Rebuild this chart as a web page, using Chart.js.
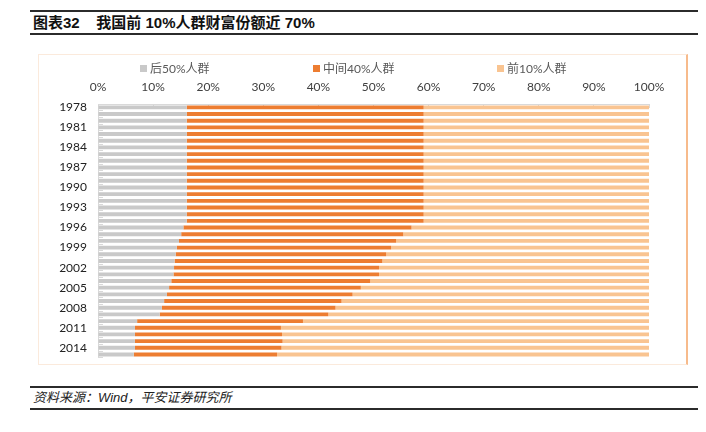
<!DOCTYPE html>
<html>
<head>
<meta charset="utf-8">
<script src="https://cdn.jsdelivr.net/npm/chart.js@4.4.0/dist/chart.umd.min.js"></script>
<style>
  body { margin: 0; background: #fff; width: 706px; height: 432px; position: relative; overflow: hidden;
         font-family: 'Liberation Sans', 'Noto Sans CJK SC', sans-serif; }
  .rule { position: absolute; left: 30px; width: 668px; background: #2b2b2b; }
  #title { position: absolute; left: 33px; top: 12px; height: 21px; line-height: 21px; font-size: 15px; font-weight: bold; color: #111; white-space: pre; }
  #source { position: absolute; left: 33px; top: 388px; height: 19px; line-height: 19px; font-size: 13px; font-style: italic; color: #222; }
  #frame { position: absolute; left: 38px; top: 54px; width: 650px; height: 311px; box-sizing: border-box;
           border: 1px solid #fbeadc; border-right: 2px solid #f7bb8c; }
  #chart { position: absolute; left: 38px; top: 54px; }
  #legend { position: absolute; top: 61px; left: 0; width: 706px; height: 16px;
            font-family: Lato, 'Noto Sans CJK SC', sans-serif; font-size: 12px; color: #595959; }
  #legend span.item { position: absolute; top: 0; line-height: 16px; white-space: nowrap; }
  #legend i { display: inline-block; width: 7px; height: 7px; margin-right: 3px; vertical-align: 1px; }
</style>
</head>
<body>
<div class="rule" style="top:10px;height:2px"></div>
<div id="title">图表32    我国前 10%人群财富份额近 70%</div>
<div class="rule" style="top:33px;height:2px"></div>

<div id="frame"></div>
<canvas id="chart" width="650" height="327"></canvas>
<div id="legend"></div>

<div class="rule" style="top:386px;height:2px"></div>
<div id="source">资料来源：Wind，平安证券研究所</div>
<div class="rule" style="top:408px;height:1.5px"></div>

<script>
const years = ['1978','1979','1980','1981','1982','1983','1984','1985','1986','1987',
  '1988','1989','1990','1991','1992','1993','1994','1995','1996','1997',
  '1998','1999','2000','2001','2002','2003','2004','2005','2006','2007',
  '2008','2009','2010','2011','2012','2013','2014','2015'];

// 后50%人群
const bottom50 = [16.1,16.1,16.1,16.1,16.1,16.1,16.1,16.1,16.1,16.1,
  16.1,16.1,16.1,16.1,16.1,16.1,16.1,16.1,15.5,15.1,
  14.7,14.3,14.1,13.9,13.8,13.7,13.3,12.9,12.5,12.0,
  11.6,11.2,7.1,6.7,6.7,6.7,6.7,6.5];

// 中间40%人群
const middle40 = [43.0,43.0,43.0,43.0,43.0,43.0,43.0,43.0,43.0,43.0,
  43.0,43.0,43.0,43.0,43.0,43.0,43.0,43.0,41.4,40.3,
  39.4,38.9,38.2,37.7,37.2,37.3,36.1,34.8,33.7,32.2,
  31.5,30.6,30.1,26.5,26.7,26.8,26.6,26.0];

// 前10%人群
const top10 = [40.9,40.9,40.9,40.9,40.9,40.9,40.9,40.9,40.9,40.9,
  40.9,40.9,40.9,40.9,40.9,40.9,40.9,40.9,43.1,44.6,
  45.9,46.8,47.7,48.4,49.0,49.0,50.6,52.3,53.8,55.8,
  56.9,58.2,62.8,66.8,66.6,66.5,66.7,67.5];

const seriesNames = ['后50%人群', '中间40%人群', '前10%人群'];
const colors = ['#c9c9c9', '#ed7d31', '#f9c491'];
const legendX = [140, 313, 497];

const font = "Lato, 'Noto Sans CJK SC', sans-serif";

const ctx = document.getElementById('chart').getContext('2d');
const chart = new Chart(ctx, {
  type: 'bar',
  data: {
    labels: years,
    datasets: [bottom50, middle40, top10].map((d, i) => ({
      label: seriesNames[i],
      data: d,
      backgroundColor: colors[i],
      borderWidth: 0,
      barPercentage: 0.58,
      categoryPercentage: 1
    }))
  },
  options: {
    indexAxis: 'y',
    responsive: false,
    animation: false,
    devicePixelRatio: 1,
    layout: { padding: { left: 0, right: 39, top: 0, bottom: 0 } },
    plugins: { legend: { display: false }, tooltip: { enabled: false } },
    scales: {
      x: {
        position: 'top',
        stacked: true,
        min: 0,
        max: 100,
        afterFit: s => { s.height = 50; },
        grid: { drawOnChartArea: false, color: '#d9d9d9', tickLength: -4 },
        border: { color: '#d9d9d9' },
        ticks: {
          stepSize: 10,
          padding: 14,
          color: '#404040',
          font: { family: font, size: 12 },
          callback: v => v + '%'
        }
      },
      y: {
        stacked: true,
        afterFit: s => { s.width = 60; },
        grid: { drawOnChartArea: false, color: '#d9d9d9', tickLength: -5 },
        border: { color: '#d9d9d9' },
        ticks: {
          autoSkip: false,
          padding: 16,
          color: '#222',
          font: { family: font, size: 12 },
          callback: function (v, i) { return i % 3 === 0 ? this.getLabelForValue(v) : ''; }
        }
      }
    }
  }
});

// legend built from the datasets
const lg = document.getElementById('legend');
chart.data.datasets.forEach((ds, i) => {
  const s = document.createElement('span');
  s.className = 'item';
  s.style.left = legendX[i] + 'px';
  s.innerHTML = '<i style="background:' + ds.backgroundColor + '"></i>' + ds.label;
  lg.appendChild(s);
});
</script>
</body>
</html>
